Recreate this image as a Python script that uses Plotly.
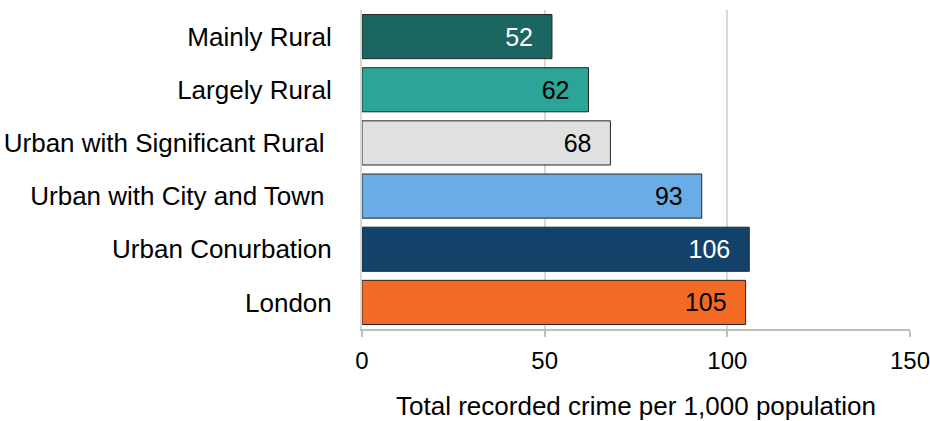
import plotly.graph_objects as go

categories = ["Mainly Rural", "Largely Rural", "Urban with Significant Rural ",
              "Urban with City and Town ", "Urban Conurbation", "London"]
values = [52, 62, 68, 93, 106, 105]
bar_colors = ["#1B6660", "#2AA597", "#E0E0E0", "#6AADE6", "#13436B", "#F26A24"]
text_colors = ["#FFFFFF", "#000000", "#000000", "#000000", "#FFFFFF", "#000000"]
x_ticks = [0, 50, 100, 150]
x_title = "Total recorded crime per 1,000 population"

FONT = "Liberation Sans, Arial"

fig = go.Figure(go.Bar(
    x=values, y=categories, orientation="h",
    marker=dict(color=bar_colors, line=dict(color="#262626", width=1)),
    text=values,
    texttemplate="%{x}\u00a0\u00a0\u200a",
    textposition="inside", insidetextanchor="end",
    textfont=dict(size=25, color=text_colors, family=FONT),
    constraintext="none",
    cliponaxis=False,
))

fig.update_layout(
    width=930, height=421,
    margin=dict(l=362, r=20, t=10, b=92),
    plot_bgcolor="white", paper_bgcolor="white",
    font=dict(family=FONT, size=26, color="#000000"),
    bargap=0.17,
    showlegend=False,
    xaxis=dict(
        range=[0, 150], tickvals=x_ticks, ticktext=[str(t) for t in x_ticks],
        showgrid=True, gridcolor="#D9D9D9", gridwidth=2,
        zeroline=False,
        showline=True, linecolor="#BFBFBF", linewidth=2,
        ticks="outside", ticklen=6, tickwidth=2, tickcolor="#BFBFBF",
        ticklabelstandoff=3, ticklabeloverflow="allow",
        tickfont=dict(size=24),
        title=dict(text=x_title, font=dict(size=26), standoff=25),
        automargin=False,
    ),
    yaxis=dict(
        autorange="reversed",
        showgrid=False, zeroline=False,
        showline=True, linecolor="#D9D9D9", linewidth=2,
        ticks="", ticklabelstandoff=23,
        tickfont=dict(size=26),
        automargin=False,
    ),
)

fig.write_html(
    "out.html",
    config={"displayModeBar": False},
    post_script="document.body.style.margin='0';document.body.style.padding='0';document.body.style.overflow='hidden';",
)
